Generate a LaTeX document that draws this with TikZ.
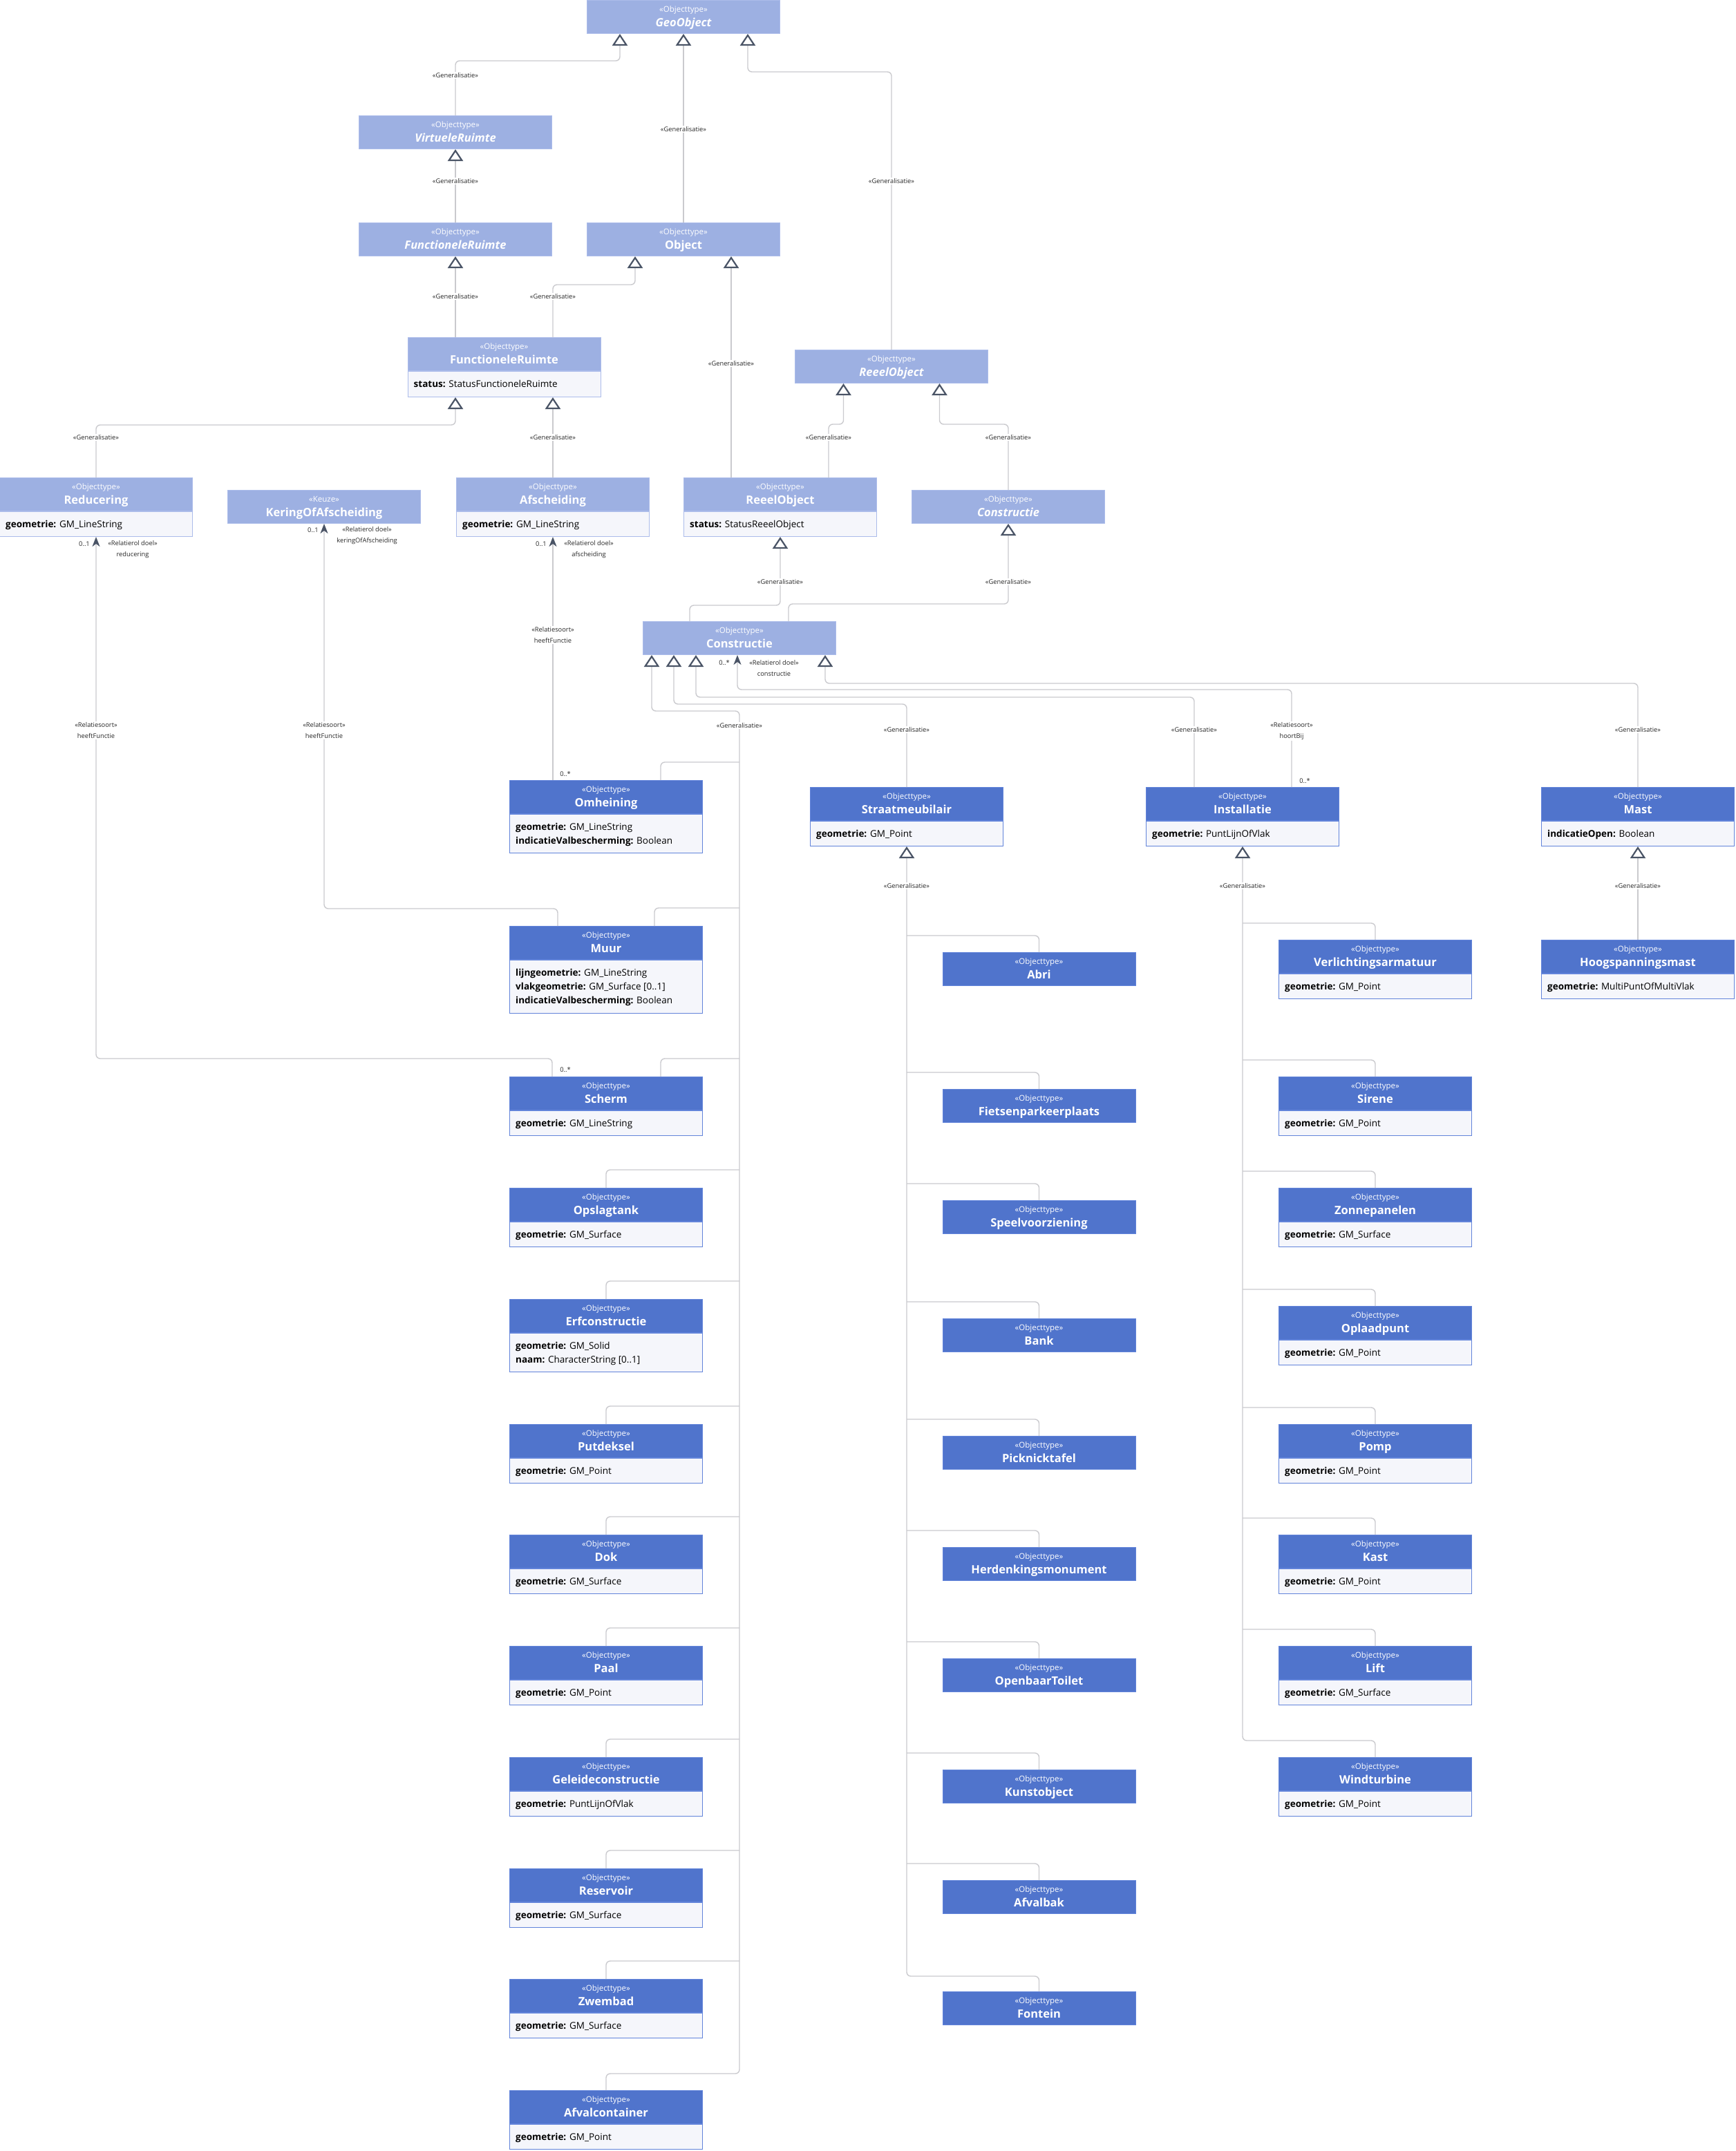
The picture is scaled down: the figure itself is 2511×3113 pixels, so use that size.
\documentclass[tikz,border=0pt]{standalone}
\usepackage{fontspec}
\setmainfont{Open Sans}
\usetikzlibrary{arrows.meta}

\definecolor{lichtblauw}{RGB}{157,176,226}
\definecolor{lichtrand}{RGB}{172,188,234}
\definecolor{donkerblauw}{RGB}{80,116,204}
\definecolor{donkerrand}{RGB}{98,132,218}
\definecolor{attrgrijs}{RGB}{245,246,251}
\definecolor{lijngrijs}{RGB}{202,202,206}
\definecolor{pijlgrijs}{RGB}{74,84,102}
\definecolor{tekstgrijs}{RGB}{40,40,40}

\tikzset{
  licht/.style={fill=lichtblauw, draw=lichtrand, line width=1pt, minimum width=279pt, minimum height=48pt, inner sep=0pt, anchor=north},
  donker/.style={licht, fill=donkerblauw, draw=donkerrand},
  vak/.style={fill=attrgrijs, draw=#1, line width=1pt, minimum width=279pt, inner sep=0pt, anchor=north},
  stereo/.style={text=white, font=\fontsize{11.5}{13}\selectfont, inner sep=0pt, anchor=base},
  titel/.style={text=white, font=\fontsize{16.5}{20}\selectfont\bfseries, inner sep=0pt, anchor=base},
  attr/.style={text=black, font=\fontsize{13.5}{16}\selectfont, inner sep=0pt, anchor=base west},
  lbl/.style={text=tekstgrijs, font=\fontsize{9.3}{11}\selectfont, fill=white, inner sep=1.5pt},
  lbl2/.style={lbl, font=\fontsize{9.3}{16.5}\selectfont, align=center},
  lijn/.style={draw=lijngrijs, line width=1.4pt, rounded corners=6pt},
  gen/.style={lijn, {Triangle[length=17pt, width=22pt, line width=2.2pt, color=pijlgrijs, fill=white]}-},
  assoc/.style={lijn, -{Stealth[length=14pt, width=11pt, inset=4pt, color=pijlgrijs]}}
}

% kop van een klasse: naam, positie, stijl, stereotype, titel
\newcommand{\klasse}[5]{%
  \node[#3] (#1) at #2 {};
  \node[stereo] (#1-st) at ([yshift=-17.5pt]#1.north) {«#4»};
  \node[titel] (#1-t) at ([yshift=-38.5pt]#1.north) {#5};
}
% vak met attributen onder de kop
\newcommand{\attrvak}[3]{\node[vak=#3, minimum height=#2] (#1-a) at (#1.south) {};}
\newcommand{\attribuut}[4]{%
  \pgfmathsetmacro\dy{23.5+20*(#2-1)}
  \node[attr] (#1-r#2) at ([xshift=9pt, yshift=-\dy pt]#1.south west) {\textbf{#3:} #4};
}

\begin{document}
\begin{tikzpicture}[x=1pt, y=-1pt]
\useasboundingbox (0,0) rectangle (2511,3113);

% abstracte bovenlaag
\klasse{geo}{(989,0)}{licht}{Objecttype}{\itshape GeoObject}
\klasse{virt}{(659,167)}{licht}{Objecttype}{\itshape VirtueleRuimte}
\klasse{fruimA}{(659,322)}{licht}{Objecttype}{\itshape FunctioneleRuimte}
\klasse{obj}{(989,322)}{licht}{Objecttype}{Object}
\klasse{fruim}{(729.5,488)}{licht}{Objecttype}{FunctioneleRuimte}
\attrvak{fruim}{37pt}{lichtrand}
\attribuut{fruim}{1}{status}{StatusFunctioneleRuimte}
\klasse{reeelA}{(1290,506)}{licht}{Objecttype}{\itshape ReeelObject}

\klasse{red}{(139,691)}{licht}{Objecttype}{Reducering}
\attrvak{red}{36pt}{lichtrand}
\attribuut{red}{1}{geometrie}{GM\_LineString}
\klasse{kering}{(469,709)}{licht}{Keuze}{KeringOfAfscheiding}
\klasse{afsch}{(800,691)}{licht}{Objecttype}{Afscheiding}
\attrvak{afsch}{36pt}{lichtrand}
\attribuut{afsch}{1}{geometrie}{GM\_LineString}
\klasse{reeel}{(1129,691)}{licht}{Objecttype}{ReeelObject}
\attrvak{reeel}{36pt}{lichtrand}
\attribuut{reeel}{1}{status}{StatusReeelObject}
\klasse{constrA}{(1459,709)}{licht}{Objecttype}{\itshape Constructie}
\klasse{constr}{(1070,899)}{licht}{Objecttype}{Constructie}

% directe subtypes van Constructie
\klasse{omh}{(877,1129)}{donker}{Objecttype}{Omheining}
\attrvak{omh}{56pt}{donkerrand}
\attribuut{omh}{1}{geometrie}{GM\_LineString}
\attribuut{omh}{2}{indicatieValbescherming}{Boolean}
\klasse{straat}{(1312,1139)}{donker}{Objecttype}{Straatmeubilair}
\attrvak{straat}{36pt}{donkerrand}
\attribuut{straat}{1}{geometrie}{GM\_Point}
\klasse{inst}{(1798,1139)}{donker}{Objecttype}{Installatie}
\attrvak{inst}{36pt}{donkerrand}
\attribuut{inst}{1}{geometrie}{PuntLijnOfVlak}
\klasse{mast}{(2370,1139)}{donker}{Objecttype}{Mast}
\attrvak{mast}{36pt}{donkerrand}
\attribuut{mast}{1}{indicatieOpen}{Boolean}
\klasse{hoog}{(2370,1360)}{donker}{Objecttype}{Hoogspanningsmast}
\attrvak{hoog}{36pt}{donkerrand}
\attribuut{hoog}{1}{geometrie}{MultiPuntOfMultiVlak}

\klasse{muur}{(877,1340)}{donker}{Objecttype}{Muur}
\attrvak{muur}{77pt}{donkerrand}
\attribuut{muur}{1}{lijngeometrie}{GM\_LineString}
\attribuut{muur}{2}{vlakgeometrie}{GM\_Surface [0..1]}
\attribuut{muur}{3}{indicatieValbescherming}{Boolean}
\klasse{erf}{(877,1880)}{donker}{Objecttype}{Erfconstructie}
\attrvak{erf}{56pt}{donkerrand}
\attribuut{erf}{1}{geometrie}{GM\_Solid}
\attribuut{erf}{2}{naam}{CharacterString [0..1]}

% linker kolom
\foreach \n/\y/\naam/\geo in {scherm/1558/Scherm/GM\_LineString, opslag/1719/Opslagtank/GM\_Surface,
  putd/2061/Putdeksel/GM\_Point, dok/2221/Dok/GM\_Surface, paal/2382/Paal/GM\_Point,
  gel/2543/Geleideconstructie/PuntLijnOfVlak, res/2704/Reservoir/GM\_Surface,
  zwem/2864/Zwembad/GM\_Surface, afvalc/3025/Afvalcontainer/GM\_Point}
{
  \klasse{\n}{(877,\y)}{donker}{Objecttype}{\naam}
  \attrvak{\n}{36pt}{donkerrand}
  \attribuut{\n}{1}{geometrie}{\geo}
}

% straatmeubilair
\foreach \n/\y/\naam in {abri/1378/Abri, fiets/1576/Fietsenparkeerplaats, speel/1737/Speelvoorziening,
  bank/1908/Bank, pick/2078/Picknicktafel, herd/2239/Herdenkingsmonument, toilet/2400/OpenbaarToilet,
  kunst/2561/Kunstobject, afvalbak/2721/Afvalbak, fontein/2882/Fontein}
{
  \klasse{\n}{(1503.5,\y)}{donker}{Objecttype}{\naam}
}

% installaties
\foreach \n/\y/\naam/\geo in {verl/1360/Verlichtingsarmatuur/GM\_Point, sirene/1558/Sirene/GM\_Point,
  zon/1719/Zonnepanelen/GM\_Surface, oplaad/1890/Oplaadpunt/GM\_Point, pomp/2061/Pomp/GM\_Point,
  kast/2221/Kast/GM\_Point, lift/2382/Lift/GM\_Surface, wind/2543/Windturbine/GM\_Point}
{
  \klasse{\n}{(1990,\y)}{donker}{Objecttype}{\naam}
  \attrvak{\n}{36pt}{donkerrand}
  \attribuut{\n}{1}{geometrie}{\geo}
}

% generalisaties
\draw[gen] ([xshift=-92pt]geo.south) -- ++(0,39) -| (virt.north);
\draw[gen] (geo.south) -- (obj.north);
\draw[gen] ([xshift=93pt]geo.south) -- ++(0,55) -| (reeelA.north);
\draw[gen] (virt.south) -- (fruimA.north);
\draw[gen] (fruimA.south) -- (fruimA.south |- fruim.north);
\draw[gen] ([xshift=-70pt]obj.south) -- ++(0,41) -| ([xshift=70.5pt]fruim.north);
\draw[gen] ([xshift=69pt]obj.south) -- ([xshift=69pt]obj.south |- reeel.north);
\draw[gen] ([xshift=-70.5pt]fruim-a.south) -- ++(0,40) -| (red.north);
\draw[gen] ([xshift=70.5pt]fruim-a.south) -- (afsch.north);
\draw[gen] ([xshift=-69.5pt]reeelA.south) -- ++(0,59) -| ([xshift=70pt]reeel.north);
\draw[gen] ([xshift=69.5pt]reeelA.south) -- ++(0,59) -| (constrA.north);
\draw[gen] (reeel-a.south) -- ++(0,99) -| ([xshift=-72pt]constr.north);
\draw[gen] (constrA.south) -- ++(0,116) -| ([xshift=71pt]constr.north);
\draw[gen] ([xshift=-127pt]constr.south) -- ++(0,81) -| (1070,3001) -| (afvalc.north);
\draw[gen] ([xshift=-95pt]constr.south) -- ++(0,71) -| (straat.north);
\draw[gen] ([xshift=-63pt]constr.south) -- ++(0,61) -| ([xshift=-70pt]inst.north);
\draw[gen] ([xshift=124pt]constr.south) -- ++(0,41) -| (mast.north);
\draw[gen] (straat-a.south) -- (1312,2860) -| (fontein.north);
\draw[gen] (inst-a.south) -- (1798,2519) -| (wind.north);
\draw[gen] (mast-a.south) -- (hoog.north);

\foreach \n/\y/\dx in {omh/1129/79, muur/1340/70, scherm/1558/79, opslag/1719/0, erf/1880/0,
  putd/2061/0, dok/2221/0, paal/2382/0, gel/2543/0, res/2704/0, zwem/2864/0}
  \draw[lijn] (1070,\y-26) -| ([xshift=\dx pt]\n.north);
\foreach \n/\y in {abri/1378, fiets/1576, speel/1737, bank/1908, pick/2078, herd/2239,
  toilet/2400, kunst/2561, afvalbak/2721}
  \draw[lijn] (1312,\y-24) -| (\n.north);
\foreach \n/\y in {verl/1360, sirene/1558, zon/1719, oplaad/1890, pomp/2061, kast/2221, lift/2382}
  \draw[lijn] (1798,\y-24) -| (\n.north);

% relaties
\draw[assoc] (afsch.south |- omh.north) -- (afsch-a.south);
\draw[assoc] ([xshift=-70pt]muur.north) -- ++(0,-25) -| (kering.south);
\draw[assoc] ([xshift=-78pt]scherm.north) -- ++(0,-26) -| (red-a.south);
\draw[assoc] ([xshift=71pt]inst.north) -- ++(0,-141) -| ([xshift=-3pt]constr.south);

% teksten bij de lijnen
\foreach \x/\y [count=\i] in {659/109, 989/187, 1290/262, 659/262, 659/429, 800/429, 1058/526,
  139/633, 800/633, 1199/633, 1459/633, 1129/842, 1459/842, 1070/1050, 1312/1056, 1728/1056,
  2370/1056, 1312/1282, 1798/1282, 2370/1282}
  \node[lbl] (gl\i) at (\x,\y) {«Generalisatie»};

\node[lbl2] (rs1) at (139,1057) {«Relatiesoort»\\heeftFunctie};
\node[lbl2] (rs2) at (469,1057) {«Relatiesoort»\\heeftFunctie};
\node[lbl2] (rs3) at (800,919) {«Relatiesoort»\\heeftFunctie};
\node[lbl2] (rs4) at (1869,1058) {«Relatiesoort»\\hoortBij};

\node[lbl2] (rd1) at (192,795) {«Relatierol doel»\\reducering};
\node[lbl2] (rd2) at (531,775) {«Relatierol doel»\\keringOfAfscheiding};
\node[lbl2] (rd3) at (852,795) {«Relatierol doel»\\afscheiding};
\node[lbl2] (rd4) at (1120,967) {«Relatierol doel»\\constructie};

\node[lbl] (m1) at (122,787) {0..1};
\node[lbl] (m2) at (453,767) {0..1};
\node[lbl] (m3) at (783,787) {0..1};
\node[lbl] (m4) at (1048,959) {0..*};
\node[lbl] (m5) at (818,1120) {0..*};
\node[lbl] (m6) at (818,1548) {0..*};
\node[lbl] (m7) at (1888,1130) {0..*};
\end{tikzpicture}
\end{document}
